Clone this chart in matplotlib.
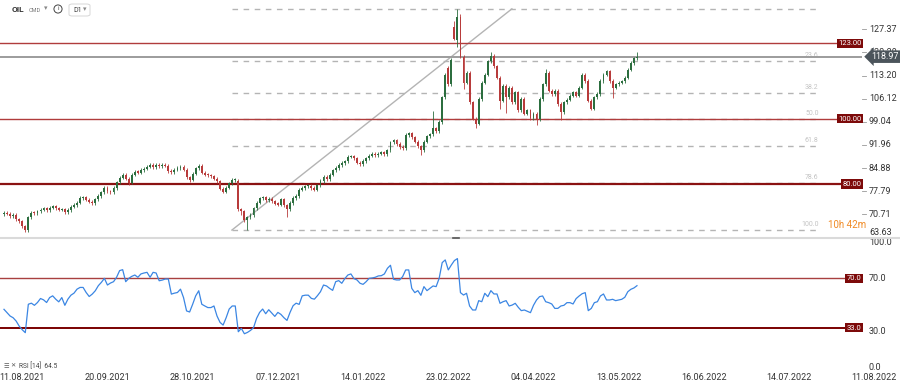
import numpy as np
import matplotlib.pyplot as plt
import matplotlib.transforms as mtransforms
from matplotlib.lines import Line2D
from matplotlib.patches import FancyBboxPatch

plt.rcParams['font.family'] = ['Roboto', 'DejaVu Sans']

# daily closes (bar 0 = first candle on the left)
closes = [71.2, 70.9, 70.2, 70.5, 69.2, 68.6, 67.0, 65.9, 69.8, 71.2,
          71.0, 71.6, 72.1, 72.5, 72.0, 72.8, 73.2, 72.5, 72.1, 72.3,
          71.4, 72.0, 73.0, 73.6, 74.3, 75.7, 75.9, 75.2, 74.6, 74.2,
          75.3, 76.3, 77.4, 78.8, 77.8, 77.5, 78.8, 80.5, 81.9, 82.8,
          81.6, 80.4, 82.8, 83.7, 83.5, 84.3, 84.7, 85.3, 85.8, 85.2,
          85.9, 85.4, 85.9, 85.6, 84.0, 83.7, 84.4, 84.9, 85.3, 84.4,
          82.0, 81.3, 83.2, 84.8, 85.6, 83.5, 82.9, 82.7, 82.4, 81.6,
          80.8, 78.6, 77.6, 78.9, 80.2, 81.2, 81.3, 72.3, 71.6, 69.0,
          69.8, 70.5, 72.6, 74.3, 75.6, 75.9, 75.1, 75.4, 74.7, 74.0,
          73.7, 75.3, 73.5, 72.3, 74.2, 75.7, 76.3, 78.2, 78.8, 79.3,
          79.4, 78.8, 78.3, 79.6, 80.9, 82.2, 81.4, 82.8, 84.2, 84.9,
          85.8, 86.4, 86.9, 88.3, 88.5, 87.9, 86.5, 86.0, 87.0, 87.8,
          88.7, 89.2, 88.8, 89.3, 89.7, 89.1, 90.3, 92.8, 93.4, 92.2,
          91.3, 91.0, 95.0, 95.5, 94.3, 93.0, 91.5, 90.4, 93.0, 94.6,
          95.2, 97.0, 96.2, 99.0, 106.5, 113.5, 110.5, 118.0, 124.5, 131.0,
          119.0, 111.0, 114.0, 105.0, 100.0, 98.5, 106.0, 111.0, 113.5, 117.5,
          119.2, 116.0, 112.5, 105.5, 110.0, 106.5, 109.5, 105.0, 108.0, 102.5,
          106.0, 101.5, 102.5, 100.2, 101.5, 99.8, 106.0, 110.5, 114.0, 108.5,
          107.5, 108.5, 104.5, 102.0, 105.0, 105.8, 107.0, 108.0, 107.0, 109.5,
          113.5, 111.5, 105.5, 103.0, 106.5, 107.5, 111.5, 113.5, 114.5, 111.5,
          109.5, 110.5, 111.0, 111.4, 112.5, 115.0, 117.0, 118.5, 118.97]

# bars that opened away from the previous close
gap_opens = {0: 70.8, 77: 81.0, 146: 115.5, 148: 128.0, 149: 124.0}

# visible long wicks: bar -> (high, low)
wick_extremes = {7: (None, 65.2), 41: (None, 79.6), 61: (None, 80.5),
                 78: (None, 70.5), 80: (None, 65.9), 93: (None, 70.0),
                 137: (None, 88.9), 141: (102.3, None), 148: (130.0, None),
                 149: (133.6, 122.0), 150: (132.0, None), 151: (None, 109.0),
                 155: (None, 97.2), 160: (120.5, None), 163: (None, 103.0),
                 165: (None, 101.7), 175: (None, 98.0), 178: (115.2, None),
                 183: (None, 99.5), 200: (None, 106.3), 208: (120.4, None)}

rsi = [46.8, 44.3, 41.8, 40.5, 38.0, 34.2, 31.5, 29.3, 50.6, 51.4,
       49.8, 51.9, 54.9, 53.9, 51.9, 55.6, 56.9, 54.4, 52.4, 55.6,
       49.8, 54.4, 57.4, 58.9, 61.9, 63.2, 63.2, 59.4, 56.4, 58.2,
       60.7, 64.5, 67.0, 70.0, 65.0, 66.5, 67.5, 70.8, 75.8, 76.5,
       67.5, 70.0, 71.5, 72.5, 70.8, 73.3, 74.0, 74.5, 70.8, 74.5,
       74.0, 68.2, 68.7, 69.5, 69.5, 58.2, 58.9, 59.4, 61.9, 55.6,
       45.6, 44.8, 50.6, 56.9, 60.7, 50.6, 49.3, 48.1, 48.1, 49.3,
       41.8, 37.0, 35.0, 40.5, 47.0, 49.3, 49.3, 30.0, 32.5, 28.5,
       29.5, 31.0, 33.0, 40.0, 44.5, 47.0, 43.5, 46.5, 44.0, 41.5,
       44.5, 43.0, 40.5, 38.5, 44.5, 49.5, 51.4, 50.5, 56.9, 57.4,
       57.4, 55.0, 54.4, 57.0, 60.0, 65.0, 64.3, 62.5, 61.0, 67.5,
       68.3, 66.3, 69.8, 72.5, 73.3, 69.8, 68.8, 66.3, 65.5, 67.5,
       70.0, 70.3, 70.8, 71.8, 72.0, 73.3, 77.5, 79.8, 69.3, 68.8,
       68.8, 71.3, 76.3, 76.3, 62.5, 59.3, 60.8, 57.3, 63.8, 60.8,
       62.5, 64.3, 63.8, 70.0, 81.8, 83.8, 76.3, 80.0, 83.3, 84.8,
       59.3, 57.5, 58.8, 49.3, 46.3, 46.3, 53.3, 52.5, 58.8, 56.3,
       60.8, 58.3, 58.3, 51.3, 52.5, 53.3, 49.3, 50.0, 51.3, 48.3,
       45.8, 46.3, 45.3, 44.3, 49.8, 53.8, 56.3, 56.8, 52.5, 51.8,
       50.8, 47.5, 47.5, 49.3, 49.8, 51.8, 51.8, 50.8, 54.8, 56.8,
       58.5, 59.3, 45.8, 47.5, 51.8, 52.5, 56.8, 58.3, 53.8, 53.8,
       54.3, 53.3, 53.8, 54.3, 55.8, 60.0, 61.8, 62.8, 64.5]

date_labels = ['11.08.2021', '20.09.2021', '28.10.2021', '07.12.2021', '14.01.2022',
               '23.02.2022', '04.04.2022', '13.05.2022', '16.06.2022', '14.07.2022',
               '11.08.2022']
date_pos = [6, 34, 62, 90, 118, 146, 174, 202, 230, 258, 286]

price_ticks = [127.37, 120.29, 113.20, 106.12, 99.04, 91.96, 84.88, 77.79, 70.71, 63.63]
levels = [123.0, 100.0, 80.0]
last_price = 118.97

# fibonacci retracement drawn from the Dec low to the Mar high
fib_start, fib_end = 74.9, 268.2
fib_low, fib_high = 65.9, 133.6
fib_ratios = [0.0, 23.6, 38.2, 50.0, 61.8, 78.6, 100.0]
trend_x = [74.9, 166.9]
trend_y = [65.9, 133.6]

rsi_ticks = [100.0, 70.0, 30.0, 0.0]
rsi_levels = [70.0, 33.0]

GREEN = '#2c6e3f'
RED = '#b83b3b'
LEVEL_RED = '#b03c3c'
BOX_RED = '#7d0a0a'

W, H = 900, 382
fig = plt.figure(figsize=(9, 3.82), dpi=100)
fig.patch.set_facecolor('white')


def rect(x0, y0, x1, y1):
    return [x0 / W, 1 - y1 / H, (x1 - x0) / W, (y1 - y0) / H]


ax = fig.add_axes(rect(0, 0, 862, 237.5))
ax2 = fig.add_axes(rect(0, 238.3, 862, 371.8))
for a in (ax, ax2):
    a.set_xlim(-1.31, 281.95)
    a.set_axis_off()
ax.set_ylim(63.62, 136.31)
ax2.set_ylim(0, 100)

# candles
for i, c in enumerate(closes):
    o = gap_opens.get(i, closes[i - 1] if i > 0 else c)
    hi, lo = wick_extremes.get(i, (None, None))
    top, bot = max(o, c), min(o, c)
    hi = hi if hi is not None else top + 0.5
    lo = lo if lo is not None else bot - 0.5
    col = GREEN if c >= o else RED
    ax.vlines(i, lo, hi, color=col, lw=0.6, zorder=3)
    ax.bar(i, max(top - bot, 0.35), bottom=bot, width=0.62, color=col,
           lw=0, zorder=3)

# fibonacci levels
for r in fib_ratios:
    p = fib_high - r / 100 * (fib_high - fib_low)
    ax.plot([fib_start, fib_end], [p, p], color='#b4b4b4', lw=1,
            dashes=(4, 4), zorder=1)
    if r > 0:
        ax.text(fib_end - 0.5, p + 0.6, f'{r:.1f}', color='#c4c4c4',
                fontsize=5, ha='right', va='bottom', zorder=1)
ax.plot(trend_x, trend_y, color='#b4b4b4', lw=1, zorder=2)

# horizontal levels
yt = ax.get_yaxis_transform()
for lv in levels:
    thick = lv == 80.0
    ax.axhline(lv, color='#8a1212' if thick else LEVEL_RED,
               lw=1.6 if thick else 1.0, zorder=2)
    ax.text(0.9995, lv, f'{lv:.2f}', transform=yt, ha='right', va='center',
            color='white', fontsize=5.5, zorder=6,
            bbox=dict(boxstyle='square,pad=0.2', fc=BOX_RED, ec='none'))

ax.axhline(last_price, color='#9c9c9c', lw=1.4, zorder=2)

# price scale on the right (120.29 sits mostly behind the price marker)
for t in price_ticks:
    va = 'bottom' if t == price_ticks[-1] else 'center'
    ax.text(1.008, t, f'{t:.2f}', transform=yt, ha='left', va=va,
            color='#333333', fontsize=6.5, clip_on=False, zorder=5)
    ax.plot([1.0, 1.005], [t, t], transform=yt, color='#999999', lw=0.6,
            clip_on=False)

ax.text(1.0105, last_price, f'{last_price:.2f}', transform=yt, ha='left',
        va='center', color='white', fontsize=6.4, zorder=7, clip_on=False,
        bbox=dict(boxstyle='larrow,pad=0.2', fc='#4b545b', ec='none'))

fig.text(828 / W, 1 - 225 / H, '10h 42m', color='#f08a24', fontsize=7,
         ha='left', va='center')

# RSI pane
ax2.plot(range(len(rsi)), rsi, color='#3b86e3', lw=0.9, zorder=3)
yt2 = ax2.get_yaxis_transform()
for lv in rsi_levels:
    ax2.axhline(lv, color='#a84040' if lv == 70.0 else '#7a0000',
                lw=1.0 if lv == 70.0 else 1.4, zorder=2)
    ax2.text(0.9995, lv, f'{lv:.1f}', transform=yt2, ha='right', va='center',
             color='white', fontsize=5.5, zorder=6,
             bbox=dict(boxstyle='square,pad=0.2', fc=BOX_RED, ec='none'))
for t in rsi_ticks:
    va = {100.0: 'top', 0.0: 'bottom'}.get(t, 'center')
    ax2.text(1.008, t, f'{t:.1f}', transform=yt2, ha='left', va=va,
             color='#333333', fontsize=6.5, clip_on=False)

# date axis
bt = mtransforms.blended_transform_factory(ax2.transData, fig.transFigure)
for pos, lab in zip(date_pos, date_labels):
    ax2.text(pos, 1 - 377 / H, lab, transform=bt, ha='center', va='center',
             color='#333333', fontsize=6.5, clip_on=False)

fig.text(3 / W, 1 - 366 / H, '\u2630', color='#555555', fontsize=4.5,
         ha='left', va='center')
fig.text(10 / W, 1 - 366 / H, '\u2715', color='#555555', fontsize=4.5,
         ha='left', va='center')
fig.text(19 / W, 1 - 366 / H, 'RSI [14]  64.5', color='#444444', fontsize=4.8,
         ha='left', va='center')

# pane separator and its handle
fig.add_artist(Line2D([0, 1], [1 - 238 / H, 1 - 238 / H], color='#dadada',
                      lw=1.5))
fig.add_artist(Line2D([453 / W, 459 / W], [1 - 238 / H, 1 - 238 / H],
                      color='#555555', lw=1.2))

# header
fig.text(12 / W, 1 - 9 / H, 'OIL', fontsize=6, fontweight='bold',
         color='#333333', va='center')
fig.text(29 / W, 1 - 10 / H, 'CMD', fontsize=4, color='#777777', va='center')
fig.text(44 / W, 1 - 9 / H, '\u25be', fontsize=5, color='#888888', va='center')
fig.text(58 / W, 1 - 9 / H, 'i', fontsize=4.5, color='#444444', va='center',
         ha='center', bbox=dict(boxstyle='circle,pad=0.25', fc='white',
                                ec='#444444', lw=0.7))
fig.add_artist(FancyBboxPatch((69 / W, 1 - 16 / H), 21 / W, 12 / H,
                              boxstyle='round,pad=0,rounding_size=0.004',
                              fc='white', ec='#d6d6d6', lw=0.7,
                              transform=fig.transFigure))
fig.text(73 / W, 1 - 10 / H, 'D1', fontsize=5, color='#444444', va='center')
fig.text(83 / W, 1 - 10 / H, '\u25be', fontsize=5, color='#888888',
         va='center')

fig.savefig('out.png', dpi=100)
